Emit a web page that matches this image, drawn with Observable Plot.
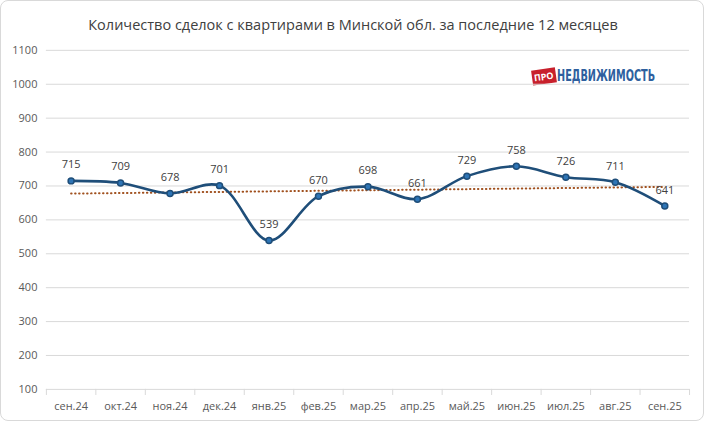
<!DOCTYPE html>
<html><head><meta charset="utf-8">
<script src="https://cdn.jsdelivr.net/npm/d3@7"></script>
<script src="https://cdn.jsdelivr.net/npm/@observablehq/plot@0.6"></script>
<style>
body{margin:0;background:#fff;font-family:"Open Sans","Liberation Sans",Arial,sans-serif}
#wrap{position:relative;width:702px;height:419px;border:1px solid #d9d9d9;border-radius:8px;overflow:hidden}
#title{position:absolute;top:14px;left:0;width:704px;text-align:center;font-size:14.5px;color:#404040}
#logo{position:absolute;left:531px;top:66px;display:flex;align-items:center}
#logo .pro{background:#c8202c;color:#fff;font-size:9px;font-weight:bold;padding:1px 2px;transform:rotate(-8deg);margin-right:1px}
#logo .ned{color:#2e5f9e;font-weight:bold;font-size:15px;font-family:"Liberation Sans Narrow","DejaVu Sans Condensed",sans-serif;transform:scaleX(0.72);transform-origin:left}
svg{position:absolute;left:0;top:0}
</style></head><body>
<div id="wrap"><div id="title">Количество сделок с квартирами в Минской обл. за последние 12 месяцев</div>
<div id="logo"><span class="pro">ПРО</span><span class="ned">НЕДВИЖИМОСТЬ</span></div></div>
<script>
const months=["сен.24","окт.24","ноя.24","дек.24","янв.25","фев.25","мар.25","апр.25","май.25","июн.25","июл.25","авг.25","сен.25"];
const values=[715,709,678,701,539,670,698,661,729,758,726,711,641];
const yTicks=[100,200,300,400,500,600,700,800,900,1000,1100];
const data=months.map((m,i)=>({i,m,v:values[i]}));
const seps=d3.range(-1,13).map(i=>i+0.5);
const chart=Plot.plot({
  width:704,height:421,marginTop:49,marginBottom:32,marginLeft:45,marginRight:14,
  style:{fontFamily:"'Open Sans','Liberation Sans',Arial,sans-serif",fontSize:"11px",color:"#595959",background:"transparent"},
  x:{domain:[-0.5,12.5],axis:null},
  y:{domain:[100,1100],axis:null},
  marks:[
    Plot.ruleY(yTicks,{stroke:"#d9d9d9"}),
    Plot.text(yTicks,{x:-0.5,y:d=>d,text:d=>String(d),textAnchor:"end",dx:-9,fill:"#595959",fontSize:11}),
    Plot.ruleX(seps,{x:d=>d,y1:100,y2:82,stroke:"#d9d9d9",clip:false}),
    Plot.text(data,{x:"i",y:100,text:"m",dy:17,fill:"#595959",fontSize:11}),
    Plot.linearRegressionY(data,{x:"i",y:"v",stroke:"#a0501e",strokeWidth:2,strokeDasharray:"0.5,3.5",strokeLinecap:"round",ci:0}),
    Plot.line(data,{x:"i",y:"v",curve:"catmull-rom",stroke:"#1f4e79",strokeWidth:2.6}),
    Plot.dot(data,{x:"i",y:"v",r:3,fill:"#2e75b6",stroke:"#1f4e79"}),
    Plot.text(data,{x:"i",y:"v",text:d=>String(d.v),dy:-16,fill:"#404040",fontSize:11})
  ]
});
document.getElementById("wrap").appendChild(chart);
</script></body></html>
